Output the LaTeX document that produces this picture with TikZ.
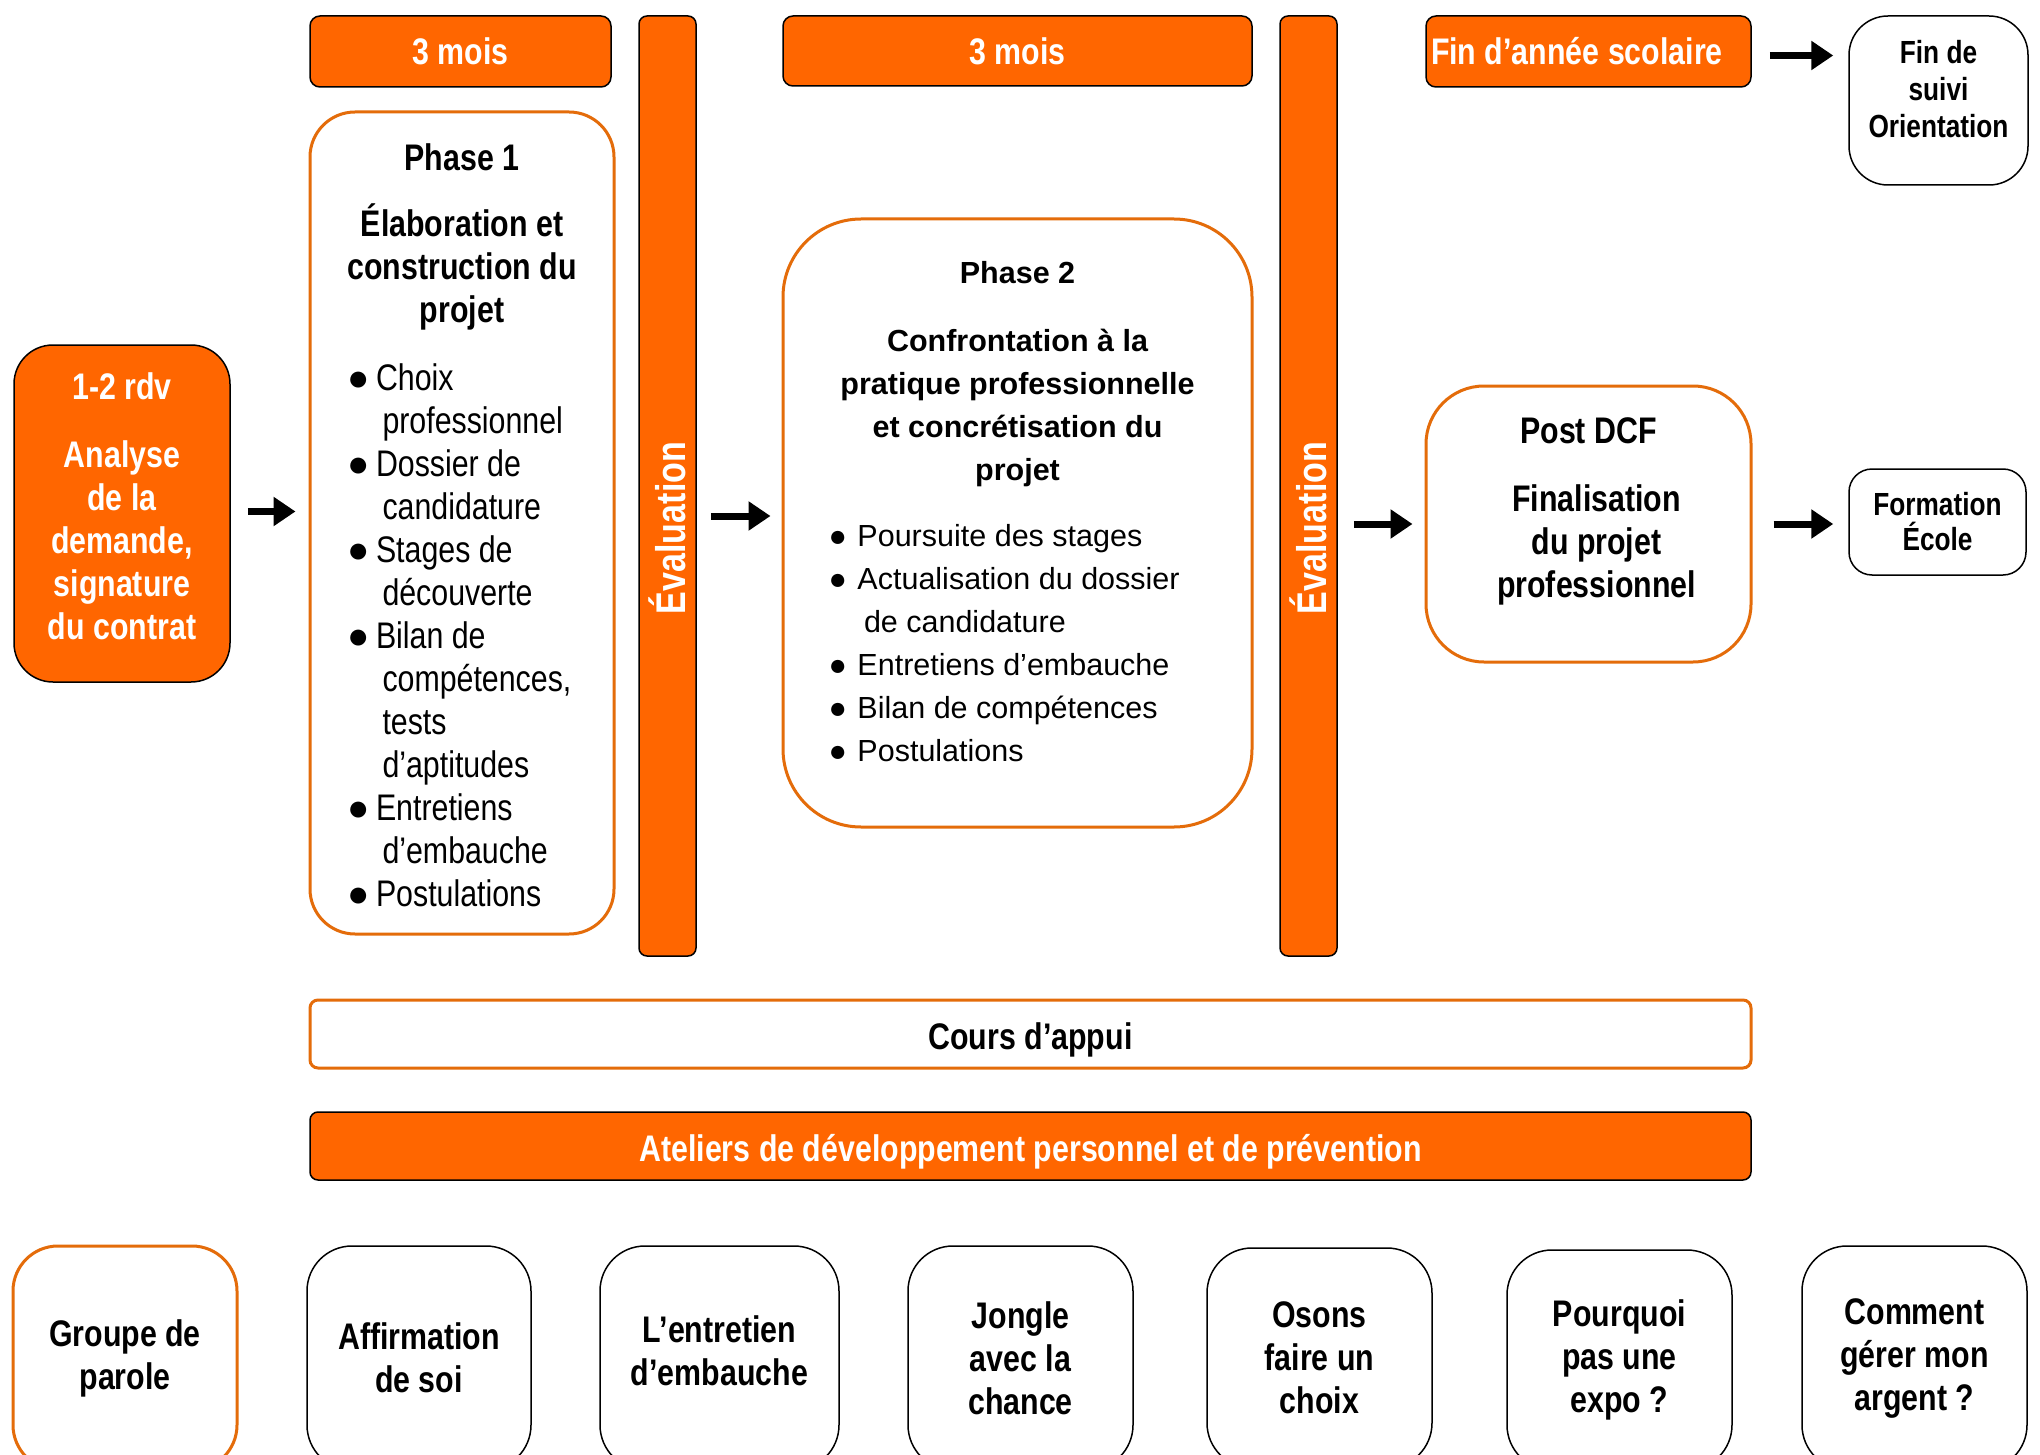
\documentclass[tikz,border=0pt]{standalone}
\usepackage{fontspec}
\setmainfont{Liberation Sans}
\newfontfamily\narrowf[FakeStretch=0.82]{Liberation Sans}
\usetikzlibrary{arrows.meta,calc}
\definecolor{orfill}{HTML}{FF6600}
\definecolor{orline}{HTML}{E46C0A}
\newcommand\nbf{\narrowf\bfseries\fontsize{37}{43}\selectfont}
\newcommand\nrf{\narrowf\mdseries\fontsize{37}{43}\selectfont}
\newcommand\wbf{\normalfont\bfseries\fontsize{30.5}{43}\selectfont}
\newcommand\wrf{\normalfont\mdseries\fontsize{30.5}{43}\selectfont}
\newcommand\smbf{\narrowf\bfseries\fontsize{32}{37}\selectfont}
\newcommand\pbul{\hspace*{10pt}\makebox[29pt][l]{{\normalfont\mdseries ●}}}
\begin{document}
\begin{tikzpicture}[x=1pt,y=-1pt,
  orbox/.style={draw=black, line width=1.5pt, fill=orfill, rectangle, inner sep=0pt, text=white, font=\nbf, align=center},
  phasebox/.style={draw=orline, line width=3pt, fill=white, rectangle, inner sep=0pt, align=center},
  wbox/.style={draw=black, line width=1.5pt, fill=white, rectangle, inner sep=0pt, align=center, font=\nbf},
  evtext/.style={text=white, font=\narrowf\bfseries\fontsize{41.5}{48}\selectfont, inner sep=0pt, rotate=90},
  bigarrow/.style={draw=black, line width=7pt, -{Triangle[length=22pt,width=28pt]}},
  lowtext/.style={text height=31pt, text depth=0pt},
]
\useasboundingbox (0,0) rectangle (2040,1455);
\fill[white] (0,0) rectangle (2040,1455);
\clip (0,0) rectangle (2040,1455);

% left box
\node[orbox, rounded corners=39pt, minimum width=216pt, minimum height=337pt] (lb) at (122,513.5) {%
\begin{minipage}{200pt}\nbf\centering
1-2 rdv\\[25pt]Analyse\\de la\\demande,\\signature\\du contrat\par
\vspace*{14pt}
\end{minipage}};

% top bars
\node[orbox, rounded corners=10pt, minimum width=301pt, minimum height=71pt] (m1) at (460.5,51.5) {3 mois};
\node[orbox, rounded corners=10pt, minimum width=469pt, minimum height=70pt] (m2) at (1017.5,51) {3 mois};
\node[orbox, rounded corners=10pt, minimum width=325pt, minimum height=71pt] (fa) at (1588.5,51.5) {\makebox[315pt][l]{Fin d’année scolaire}};

% evaluation bars
\node[orbox, rounded corners=8pt, minimum width=57pt, minimum height=940pt] (ev1) at (667.5,486) {};
\node[evtext] (ev1t) at ($(ev1.center)+(0,42)$) {Évaluation};
\node[orbox, rounded corners=8pt, minimum width=57pt, minimum height=940pt] (ev2) at (1308.5,486) {};
\node[evtext] (ev2t) at ($(ev2.center)+(0,42)$) {Évaluation};

% phase 1
\node[phasebox, rounded corners=45pt, minimum width=304pt, minimum height=822pt] (p1) at (462,523) {%
\begin{minipage}{250pt}\nbf\centering
\vspace*{4pt}
Phase 1\par\vspace{23pt}
Élaboration et\\construction du\\projet\par\vspace{25pt}
\raggedright\nrf
\pbul Choix\\
\hspace*{45.5pt}professionnel\\
\pbul Dossier de\\
\hspace*{45.5pt}candidature\\
\pbul Stages de\\
\hspace*{45.5pt}découverte\\
\pbul Bilan de\\
\hspace*{45.5pt}compétences,\\
\hspace*{45.5pt}tests\\
\hspace*{45.5pt}d’aptitudes\\
\pbul Entretiens\\
\hspace*{45.5pt}d’embauche\\
\pbul Postulations\par
\end{minipage}};

% phase 2
\node[phasebox, rounded corners=78pt, minimum width=469pt, minimum height=608pt] (p2) at (1017.5,523) {%
\begin{minipage}{400pt}\wbf\centering
Phase 2\par\vspace{25pt}
Confrontation à la\\pratique professionnelle\\et concrétisation du\\projet\par\vspace{23pt}
\raggedright\wrf
\hspace*{11pt}\makebox[29pt][l]{●}Poursuite des stages\\
\hspace*{11pt}\makebox[29pt][l]{●}Actualisation du dossier\\
\hspace*{46.5pt}de candidature\\
\hspace*{11pt}\makebox[29pt][l]{●}Entretiens d’embauche\\
\hspace*{11pt}\makebox[29pt][l]{●}Bilan de compétences\\
\hspace*{11pt}\makebox[29pt][l]{●}Postulations\par
\vspace*{22pt}
\end{minipage}};

% post DCF
\node[phasebox, rounded corners=58pt, minimum width=325pt, minimum height=276pt] (pd) at (1588.5,524) {%
\begin{minipage}{300pt}\nbf\centering
Post DCF\\[25pt]
\hspace*{16pt}Finalisation\\
\hspace*{16pt}du projet\\
\hspace*{16pt}professionnel\par
\vspace*{25pt}
\end{minipage}};

% right boxes
\node[wbox, rounded corners=39pt, minimum width=179pt, minimum height=169pt] (fs) at (1938.5,100.5) {%
\begin{minipage}{170pt}\smbf\centering
Fin de\\suivi\\Orientation\par
\vspace*{22pt}
\end{minipage}};
\node[wbox, rounded corners=23pt, minimum width=177pt, minimum height=106pt, font=\narrowf\bfseries\fontsize{32}{35}\selectfont] (fe) at (1937.5,522) {Formation\\École};

% long bars
\node[phasebox, lowtext, rounded corners=8pt, minimum width=1441pt, minimum height=68pt, font=\nbf] (ca) at (1030.5,1034) {Cours d’appui};
\node[orbox, lowtext, rounded corners=8pt, minimum width=1441pt, minimum height=68pt] (atel) at (1030.5,1146) {Ateliers de développement personnel et de prévention};

% bottom workshops
\node[phasebox, rounded corners=45pt, minimum width=224pt, minimum height=224pt, font=\nbf] (w1) at (125,1358) {Groupe de\\parole};
\node[wbox, rounded corners=45pt, minimum width=224pt, minimum height=224pt] (w2) at (419,1358) {Affirmation\\de soi};
\node[wbox, rounded corners=45pt, minimum width=239pt, minimum height=224pt] (w3) at (719.5,1358) {%
\begin{minipage}{230pt}\nbf\centering
L’entretien\\d’embauche\par
\vspace*{15pt}
\end{minipage}};
\node[wbox, rounded corners=45pt, minimum width=225pt, minimum height=224pt] (w4) at (1020.5,1358) {Jongle\\avec la\\chance};
\node[wbox, rounded corners=45pt, minimum width=225pt, minimum height=220pt] (w5) at (1319.5,1358) {Osons\\faire un\\choix};
\node[wbox, rounded corners=45pt, minimum width=225pt, minimum height=220pt] (w6) at (1619.5,1360) {Pourquoi\\pas une\\expo ?};
\node[wbox, rounded corners=45pt, minimum width=225pt, minimum height=224pt] (w7) at (1914.5,1358) {Comment\\gérer mon\\argent ?};

% arrows
\draw[bigarrow, shorten <=17pt, shorten >=13pt] ([yshift=2pt]lb.east) -- ([yshift=2pt]lb.east -| p1.west);
\draw[bigarrow, shorten <=14pt, shorten >=11pt] ([yshift=7pt]p2.west -| ev1.east) -- ([yshift=7pt]p2.west);
\draw[bigarrow, shorten <=16pt, shorten >=12pt] (pd.west -| ev2.east) -- (pd.west);
\draw[bigarrow, shorten <=21pt, shorten >=15pt] (pd.east) -- (pd.east -| fe.west);
\draw[bigarrow, shorten <=18pt, shorten >=15pt] ([yshift=-4pt]fa.east) -- ([yshift=-4pt]fa.east -| fs.west);
\end{tikzpicture}
\end{document}
